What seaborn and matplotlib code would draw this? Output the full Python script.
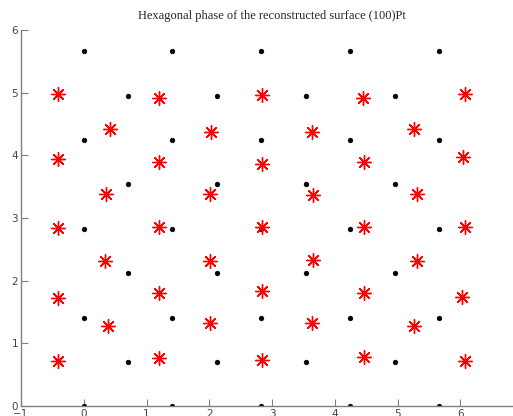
import matplotlib
matplotlib.use("Agg")
import matplotlib.pyplot as plt
import seaborn as sns
import pandas as pd

# black dots: square lattice of the (100) surface
dot_x = [0, 1.41, 2.83, 4.24, 5.66,
         0.71, 2.12, 3.54, 4.95,
         0, 1.41, 2.83, 4.24, 5.66,
         0.71, 2.12, 3.54, 4.95,
         0, 1.41, 2.83, 4.24, 5.66,
         0.71, 2.12, 3.54, 4.95,
         0, 1.41, 2.83, 4.24, 5.66,
         0.71, 2.12, 3.54, 4.95,
         0, 1.41, 2.83, 4.24, 5.66]
dot_y = [0] * 5 + [0.71] * 4 + [1.41] * 5 + [2.12] * 4 + [2.83] * 5 \
    + [3.54] * 4 + [4.24] * 5 + [4.95] * 4 + [5.66] * 5

# red asterisks: hexagonal overlayer
star_x = [-0.41, -0.41, -0.41, -0.41, -0.41,
          0.41, 0.36, 0.34, 0.39,
          1.20, 1.19, 1.19, 1.19, 1.20,
          2.02, 2.01, 2.01, 2.01,
          2.84, 2.84, 2.84, 2.84, 2.84,
          3.64, 3.65, 3.65, 3.64,
          4.45, 4.46, 4.46, 4.46, 4.46,
          5.26, 5.31, 5.31, 5.26,
          6.07, 6.04, 6.07, 6.02, 6.07]
star_y = [4.98, 3.94, 2.84, 1.72, 0.72,
          4.42, 3.38, 2.31, 1.28,
          4.91, 3.89, 2.85, 1.80, 0.77,
          4.37, 3.38, 2.31, 1.32,
          4.96, 3.86, 2.85, 1.84, 0.73,
          4.37, 3.37, 2.33, 1.32,
          4.91, 3.89, 2.85, 1.80, 0.78,
          4.42, 3.38, 2.31, 1.28,
          4.98, 3.97, 2.85, 1.74, 0.72]

dots = pd.DataFrame({"x": dot_x, "y": dot_y})
stars = pd.DataFrame({"x": star_x, "y": star_y})

sns.set_style("white")
fig = plt.figure(figsize=(5.13, 4.16), dpi=100)
ax = fig.add_axes([0.041, 0.024, 0.979, 0.904])

sns.scatterplot(data=dots, x="x", y="y", ax=ax, color="black", s=11,
                edgecolor="black", linewidth=0.5, zorder=2)
sns.scatterplot(data=stars, x="x", y="y", ax=ax, marker=(8, 2, 0), s=100,
                color="red", edgecolor="red", linewidth=1.0, zorder=3)

ax.set_xlim(-1, 7)
ax.set_ylim(0, 6)
ax.set_xticks(range(-1, 8))
ax.set_yticks(range(0, 7))
ax.set_xlabel("")
ax.set_ylabel("")
ax.set_title("Hexagonal phase of the reconstructed surface (100)Pt",
             fontsize=9, family="Liberation Serif", pad=8)
for side in ["top", "right"]:
    ax.spines[side].set_visible(False)
for side in ["left", "bottom"]:
    ax.spines[side].set_color("#808080")
    ax.spines[side].set_linewidth(1.0)
ax.tick_params(direction="in", length=5, width=0.8, color="#808080",
               labelsize=7.5, labelcolor="#444444", pad=2,
               left=True, bottom=True)

fig.savefig("out.png", dpi=100)
